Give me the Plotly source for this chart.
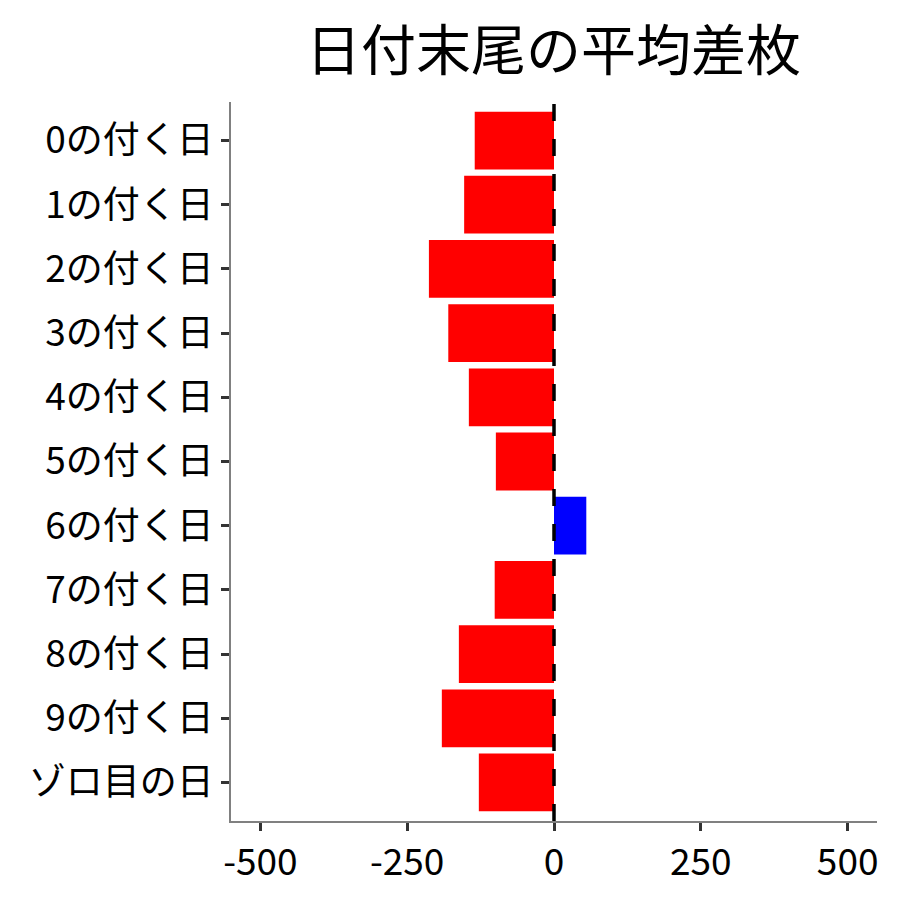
import plotly.graph_objects as go

# 日付末尾ごとの平均差枚
labels = ["0の付く日", "1の付く日", "2の付く日", "3の付く日", "4の付く日",
          "5の付く日", "6の付く日", "7の付く日", "8の付く日", "9の付く日", "ゾロ目の日"]
avg_diff = [-135, -153, -213, -180, -145, -99, 55, -101, -162, -191, -128]
x_ticks = [-500, -250, 0, 250, 500]

colors = ["blue" if v > 0 else "red" for v in avg_diff]

fig = go.Figure()
fig.add_trace(go.Bar(
    x=avg_diff, y=labels, orientation="h",
    marker=dict(color=colors, line=dict(width=0)),
    width=0.9, showlegend=False,
))

# 0の位置に破線
fig.add_shape(type="line", x0=0, x1=0, y0=0, y1=1, xref="x", yref="paper",
              line=dict(color="black", width=3.5, dash="17px,18px"), layer="above")

fig.update_layout(
    width=900, height=900,
    paper_bgcolor="white", plot_bgcolor="white",
    margin=dict(l=223, r=31, t=94, b=87),
    font=dict(family="Noto Sans CJK JP", color="black"),
    title=dict(text="日付末尾の平均差枚", x=0.606, xanchor="center",
               y=0.953, yanchor="middle", font=dict(size=55, color="black")),
    bargap=0.1,
)
fig.update_xaxes(
    range=[-550, 550], tickvals=x_ticks, ticktext=[str(v) for v in x_ticks],
    showgrid=False, zeroline=False,
    showline=True, linecolor="#808080", linewidth=1.5,
    ticks="outside", ticklen=8, tickwidth=3, tickcolor="#333333",
    tickfont=dict(size=37, color="black"),
)
fig.update_yaxes(
    categoryorder="array", categoryarray=labels, range=[10.6, -0.6],
    showgrid=False, zeroline=False,
    showline=True, linecolor="#808080", linewidth=1.5,
    ticks="outside", ticklen=8, tickwidth=3, tickcolor="#333333",
    tickfont=dict(size=37, color="black"),
)

fig.write_html("out.html")
